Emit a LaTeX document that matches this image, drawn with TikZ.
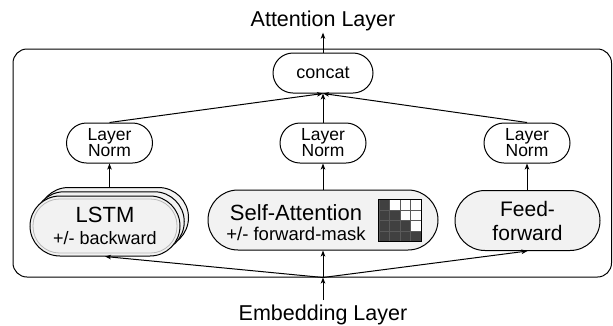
\documentclass[tikz,border=0pt]{standalone}
\usepackage{fontspec}
\setmainfont{Liberation Sans}
\usetikzlibrary{arrows.meta}
\definecolor{boxfill}{HTML}{F2F2F2}
\definecolor{maskdark}{HTML}{404040}
\definecolor{maskline}{HTML}{5A5A5A}
\begin{document}
\begin{tikzpicture}[x=1pt,y=-1pt,
  lw/.style={line width=1pt},
  arr/.style={lw,-{Stealth[length=6pt,width=4.5pt,inset=1.5pt]}},
  lnbox/.style={draw,lw,fill=white,minimum width=86pt,minimum height=40pt,rounded corners=20pt,inner sep=0pt,align=center,font=\fontsize{17.5}{16}\selectfont},
  modbox/.style={draw,lw,fill=boxfill,minimum height=60pt,rounded corners=30pt,inner sep=0pt,align=center},
  lbl/.style={inner sep=2pt,anchor=base}]
\useasboundingbox (0,0) rectangle (613,325);

% outer frame
\node[draw,lw,rounded corners=14pt,minimum width=598.5pt,minimum height=228pt,inner sep=0pt] (frame) at (312.25,163) {};

% labels
\node[lbl,font=\fontsize{21.5}{24}\selectfont] (att) at (323,26) {Attention Layer};
\node[lbl,inner sep=4pt,font=\fontsize{21.5}{24}\selectfont] (emb) at (323,320) {Embedding Layer};

% concat and layer norms
\node[lnbox,minimum width=100pt,font=\fontsize{18}{21}\selectfont] (cc) at (323,73) {concat};
\node[lnbox] (ln1) at (109.5,143) {Layer\\Norm};
\node[lnbox] (ln2) at (323,143) {Layer\\Norm};
\node[lnbox] (ln3) at (527,143) {Layer\\Norm};

% LSTM stack
\node[modbox,minimum width=150pt] (lstmC) at (113.5,217.5) {};
\node[modbox,minimum width=150pt] (lstmB) at (109.25,221.75) {};
\node[modbox,minimum width=150pt,font=\fontsize{22}{22}\selectfont] (lstm) at (105,226)
  {LSTM\\{\fontsize{18}{22}\selectfont +/- backward}};
\draw[gray!55,line width=0.8pt,rounded corners=26.5pt]
  ([shift={(3.5,3.5)}]lstm.north west) rectangle ([shift={(-3.5,-3.5)}]lstm.south east);

% Self-attention
\node[modbox,minimum width=230pt] (sa) at (323,220) {};
\node[align=center,inner sep=0pt,font=\fontsize{22}{20}\selectfont] (satext) at (296,222.5)
  {Self-Attention\\{\fontsize{18.5}{20}\selectfont +/- forward-mask}};
\node[minimum size=42pt,inner sep=0pt] (mask) at (400,220.5) {};
\foreach \r in {0,...,3}{
  \foreach \c in {0,...,3}{
    \ifnum\c>\r\def\cf{white}\else\def\cf{maskdark}\fi
    \draw[fill=\cf,draw=maskline,line width=0.6pt]
      ([shift={(10.5*\c,10.5*\r)}]mask.north west) rectangle +(10.5,10.5);
  }
}
\draw[lw] (mask.north west) rectangle (mask.south east);

% Feed-forward
\node[modbox,minimum width=145pt,font=\fontsize{21}{24}\selectfont] (ff) at (527.5,220.5) {Feed-\\forward};

% connectors
\coordinate (split) at (sa.south |- frame.south);
\draw[arr] (emb.north) -- (split);
\draw[arr] (split) -- (sa.south);
\draw[arr] (split) -- (lstm.south);
\draw[arr] (split) -- (ff.south);
\draw[arr] (lstmC.north -| ln1.south) -- (ln1.south);
\draw[arr] (sa.north) -- (ln2.south);
\draw[arr] (ff.north -| ln3.south) -- (ln3.south);
\draw[arr] (ln1.north) -- (cc.south);
\draw[arr] (ln2.north) -- (cc.south);
\draw[arr] (ln3.north) -- (cc.south);
\draw[arr] (cc.north) -- (att.south);
\end{tikzpicture}
\end{document}
